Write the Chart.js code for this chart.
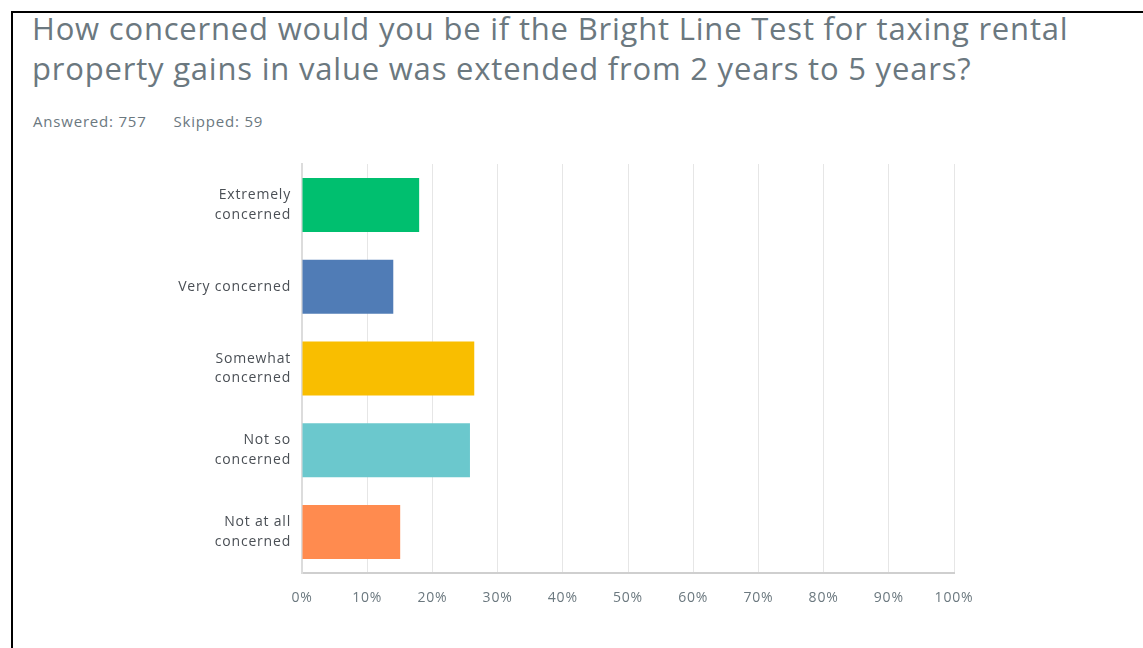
<!DOCTYPE html>
<html>
<head>
<meta charset="utf-8">
<script src="https://cdn.jsdelivr.net/npm/chart.js@4"></script>
<style>
    html, body { margin: 0; padding: 0; background: #fff; }
    body { width: 1143px; height: 648px; position: relative; overflow: hidden; }
    .frame {
        position: absolute; left: 11px; top: 11px; right: -10px; bottom: -10px;
        border-top: 2px solid #000; border-left: 2px solid #000;
    }
    .title {
        position: absolute; left: 32px; top: 8px;
        font-family: 'Open Sans', sans-serif; font-size: 31px; font-weight: 400;
        letter-spacing: 0.8px; line-height: 40px; color: #6b787f; white-space: nowrap;
    }
    .meta {
        position: absolute; left: 33px; top: 111px;
        font-family: 'Open Sans', sans-serif; font-size: 15px; letter-spacing: 0.8px; color: #6b787f;
    }
    .meta span + span { margin-left: 27px; }
    #chartWrap { position: absolute; left: 0; top: 0; width: 1143px; height: 648px; }
</style>
</head>
<body>
<div class="frame"></div>
<div class="title">How concerned would you be if the Bright Line Test for taxing rental<br>property gains in value was extended from 2 years to 5 years?</div>
<div class="meta"><span>Answered: 757</span><span>Skipped: 59</span></div>
<div id="chartWrap"><canvas id="surveyChart"></canvas></div>

<script>
const categories = [
    ['Extremely', 'concerned'],
    'Very concerned',
    ['Somewhat', 'concerned'],
    ['Not so', 'concerned'],
    ['Not at all', 'concerned']
];
const responses = [17.97, 14.00, 26.42, 25.76, 15.06];
const barColors = ['#00bf6f', '#507cb6', '#f9be00', '#6bc8cd', '#ff8b4f'];
const tickLabels = ['0%', '10%', '20%', '30%', '40%', '50%', '60%', '70%', '80%', '90%', '100%'];

// canvas text is a bit narrow next to the original font, so widen it a little
const letterSpacingPlugin = {
    id: 'letterSpacing',
    beforeUpdate: chart => { chart.ctx.letterSpacing = '0.8px'; },
    beforeDraw: chart => { chart.ctx.letterSpacing = '0.8px'; }
};

function buildSurveyChart(canvas) {
    if (!canvas) return;
    new Chart(canvas, {
        type: 'bar',
        data: {
            labels: categories,
            datasets: [{
                data: responses,
                backgroundColor: barColors,
                borderWidth: 0,
                categoryPercentage: 1,
                barPercentage: 0.66
            }]
        },
        options: {
            indexAxis: 'y',
            responsive: true,
            maintainAspectRatio: false,
            animation: false,
            layout: { padding: { top: 164, right: 189, left: 0, bottom: 0 } },
            plugins: {
                legend: { display: false },
                tooltip: { enabled: false }
            },
            scales: {
                x: {
                    min: 0,
                    max: 100,
                    afterFit: s => { s.height = 75; },
                    ticks: {
                        stepSize: 10,
                        padding: 17,
                        maxRotation: 0,
                        autoSkip: false,
                        color: '#6b787f',
                        font: { family: 'Open Sans', size: 14 },
                        callback: (v, i) => tickLabels[i]
                    },
                    grid: { color: '#e6e6e6', drawTicks: false },
                    border: { color: '#cfcfcf', width: 2 }
                },
                y: {
                    afterFit: s => { s.width = 302; },
                    ticks: {
                        padding: 11,
                        color: '#4a4f55',
                        font: { family: 'Open Sans', size: 14, lineHeight: 1.4 }
                    },
                    grid: { display: false, drawTicks: false },
                    border: { color: '#dcdcdc', width: 2 }
                }
            }
        },
        plugins: [letterSpacingPlugin]
    });
}

document.addEventListener('DOMContentLoaded', () => {
    buildSurveyChart(document.getElementById('surveyChart'));
});
</script>
</body>
</html>
